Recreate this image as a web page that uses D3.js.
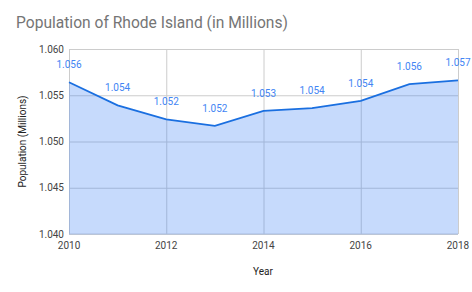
<!DOCTYPE html>
<html>
<head>
<meta charset="utf-8">
<script src="https://cdn.jsdelivr.net/npm/d3@7"></script>
<style>
  body { margin: 0; background: #fff; }
  text { font-family: Roboto, "Noto Sans", sans-serif; }
</style>
</head>
<body>
<div id="vis"></div>
<script>
// chart data
const YEARS = [2010, 2011, 2012, 2013, 2014, 2015, 2016, 2017, 2018];
const POPULATION = [1.0564, 1.0539, 1.0524, 1.0517, 1.0533, 1.0536, 1.0544, 1.0562, 1.0566];
const X_TICKS = [2010, 2012, 2014, 2016, 2018];
const Y_TICKS = [1.040, 1.045, 1.050, 1.055, 1.060];

// dimensions of the frame
const FRAME_WIDTH = 472;
const FRAME_HEIGHT = 292;
const MARGINS = {left: 69, right: 14, top: 49, bottom: 58};
const VIS_WIDTH = FRAME_WIDTH - MARGINS.left - MARGINS.right;
const VIS_HEIGHT = FRAME_HEIGHT - MARGINS.top - MARGINS.bottom;

const FRAME = d3.select("#vis")
                .append("svg")
                  .attr("width", FRAME_WIDTH)
                  .attr("height", FRAME_HEIGHT);

const data = YEARS.map((y, i) => ({year: y, value: POPULATION[i]}));

const X_SCALE = d3.scaleLinear()
                  .domain([2010, 2018])
                  .range([0, VIS_WIDTH]);

const Y_SCALE = d3.scaleLinear()
                  .domain([1.040, 1.060])
                  .range([VIS_HEIGHT, 0]);

const g = FRAME.append("g")
               .attr("transform", "translate(" + MARGINS.left + "," + MARGINS.top + ")");

// title
FRAME.append("text")
     .attr("x", 16)
     .attr("y", 28)
     .attr("font-size", "15.6px")
     .attr("fill", "#757575")
     .text("Population of Rhode Island (in Millions)");

// gridlines
g.append("g")
   .call(d3.axisLeft(Y_SCALE).tickValues(Y_TICKS).tickSize(-VIS_WIDTH).tickFormat(""))
   .call(ax => ax.select(".domain").remove())
   .selectAll("line").attr("stroke", "#cccccc");

g.append("g")
   .call(d3.axisBottom(X_SCALE).tickValues(X_TICKS).tickSize(VIS_HEIGHT).tickFormat(""))
   .call(ax => ax.select(".domain").remove())
   .selectAll("line").attr("stroke", "#cccccc");

// area + line
g.append("path")
   .datum(data)
   .attr("fill", "#4285f4")
   .attr("fill-opacity", 0.3)
   .attr("d", d3.area()
               .x(d => X_SCALE(d.year))
               .y0(VIS_HEIGHT)
               .y1(d => Y_SCALE(d.value)));

g.append("path")
   .datum(data)
   .attr("fill", "none")
   .attr("stroke", "#1a6fe0")
   .attr("stroke-width", 1.8)
   .attr("d", d3.line()
               .x(d => X_SCALE(d.year))
               .y(d => Y_SCALE(d.value)));

// baseline
g.append("line")
   .attr("x1", 0).attr("x2", VIS_WIDTH)
   .attr("y1", VIS_HEIGHT).attr("y2", VIS_HEIGHT)
   .attr("stroke", "#a9bde0");

// point labels
g.selectAll(".lbl")
   .data(data)
   .enter()
   .append("text")
     .attr("x", d => X_SCALE(d.year))
     .attr("y", d => Y_SCALE(d.value) - 14)
     .attr("text-anchor", "middle")
     .attr("font-size", "10px")
     .attr("fill", "#4285f4")
     .text(d => d3.format(".3f")(d.value));

// axis labels
g.append("g")
   .selectAll("text")
   .data(Y_TICKS)
   .enter()
   .append("text")
     .attr("x", -5)
     .attr("y", d => Y_SCALE(d) + 3.5)
     .attr("text-anchor", "end")
     .attr("font-size", "10px")
     .attr("fill", "#444")
     .text(d => d3.format(".3f")(d));

g.append("g")
   .selectAll("text")
   .data(X_TICKS)
   .enter()
   .append("text")
     .attr("x", d => X_SCALE(d))
     .attr("y", VIS_HEIGHT + 15)
     .attr("text-anchor", "middle")
     .attr("font-size", "10px")
     .attr("fill", "#444")
     .text(d => d);

// axis titles
FRAME.append("text")
     .attr("x", 263)
     .attr("y", 275)
     .attr("text-anchor", "middle")
     .attr("font-size", "10px")
     .attr("fill", "#222")
     .text("Year");

FRAME.append("text")
     .attr("transform", "translate(26," + (MARGINS.top + VIS_HEIGHT / 2) + ") rotate(-90)")
     .attr("text-anchor", "middle")
     .attr("font-size", "10px")
     .attr("fill", "#222")
     .text("Population (Millions)");
</script>
</body>
</html>
